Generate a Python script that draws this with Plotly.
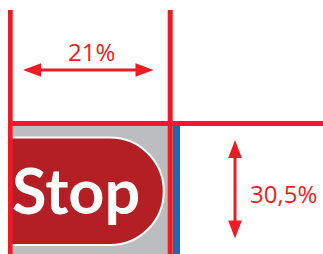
import plotly.graph_objects as go

# ---- data ----
dimension_labels = ["21%", "30,5%"]
dimension_values = [21.0, 30.5]
sign_text = ["Stop"]

RED = "#ED1C24"
DARK_RED = "#B31F24"
GRAY = "#BBBDBF"
BLUE = "#2068B2"

W, H = 323, 254

fig = go.Figure()
fig.add_trace(go.Scatter(x=[None], y=[None], showlegend=False, hoverinfo="skip"))

shapes = []
def rect(x0, y0, x1, y1, color):
    shapes.append(dict(type="rect", xref="x", yref="y", x0=x0, y0=y0, x1=x1, y1=y1,
                       fillcolor=color, line=dict(width=0), layer="above"))

# grey panel and blue edge
rect(12.7, 126, 168, H, GRAY)
rect(172.7, 121, 180, H, BLUE)

# red pill with white outline
cx, cy, r = 110.0, 191.25, 53.75
k = 0.5523 * r
top, bot = cy - r, cy + r
pill = (f"M 9.5,{top} L {cx},{top} "
        f"C {cx + k},{top} {cx + r},{cy - k} {cx + r},{cy} "
        f"C {cx + r},{cy + k} {cx + k},{bot} {cx},{bot} "
        f"L 9.5,{bot} Z")
shapes.append(dict(type="path", xref="x", yref="y", path=pill, fillcolor=DARK_RED,
                   line=dict(color="white", width=2), layer="above"))

# red guide lines
rect(8, 10, 12.7, H, RED)
rect(167.7, 10, 172.7, H, RED)
rect(10, 121, W, 126, RED)

# horizontal dimension arrow
ay = 70
xl, xr = 23, 153.5
hl, hw = 18, 6.8
shapes.append(dict(type="line", xref="x", yref="y", x0=xl + 5, x1=xr - 5, y0=ay, y1=ay,
                   line=dict(color=RED, width=3)))
shapes.append(dict(type="path", xref="x", yref="y",
                   path=f"M {xl},{ay} L {xl+hl},{ay-hw} L {xl+hl},{ay+hw} Z",
                   fillcolor=RED, line=dict(width=0)))
shapes.append(dict(type="path", xref="x", yref="y",
                   path=f"M {xr},{ay} L {xr-hl},{ay-hw} L {xr-hl},{ay+hw} Z",
                   fillcolor=RED, line=dict(width=0)))

# vertical dimension arrow
ax = 235
yt, yb = 140, 238.5
shapes.append(dict(type="line", xref="x", yref="y", x0=ax, x1=ax, y0=yt + 5, y1=yb - 5,
                   line=dict(color=RED, width=3)))
shapes.append(dict(type="path", xref="x", yref="y",
                   path=f"M {ax},{yt} L {ax-hw},{yt+hl} L {ax+hw},{yt+hl} Z",
                   fillcolor=RED, line=dict(width=0)))
shapes.append(dict(type="path", xref="x", yref="y",
                   path=f"M {ax},{yb} L {ax-hw},{yb-hl} L {ax+hw},{yb-hl} Z",
                   fillcolor=RED, line=dict(width=0)))

annotations = [
    dict(x=91.5, y=51.5, text=dimension_labels[0], showarrow=False, xref="x", yref="y",
         xanchor="center", yanchor="middle",
         font=dict(family="Open Sans", size=24, color=RED)),
    dict(x=283.5, y=193.5, text=dimension_labels[1], showarrow=False, xref="x", yref="y",
         xanchor="center", yanchor="middle",
         font=dict(family="Open Sans", size=24, color=RED)),
    dict(x=75.5, y=189, text=sign_text[0], showarrow=False, xref="x", yref="y",
         xanchor="center", yanchor="middle",
         font=dict(family="Lato", size=63, color="white", weight="bold")),
]

fig.update_layout(
    width=W, height=H, margin=dict(l=0, r=0, t=0, b=0),
    paper_bgcolor="white", plot_bgcolor="white",
    xaxis=dict(range=[0, W], visible=False, fixedrange=True),
    yaxis=dict(range=[H, 0], visible=False, fixedrange=True),
    shapes=shapes, annotations=annotations, showlegend=False,
)

fig.write_html("out.html", config={"displayModeBar": False},
               post_script="document.body.style.margin='0';document.body.style.overflow='hidden';")
